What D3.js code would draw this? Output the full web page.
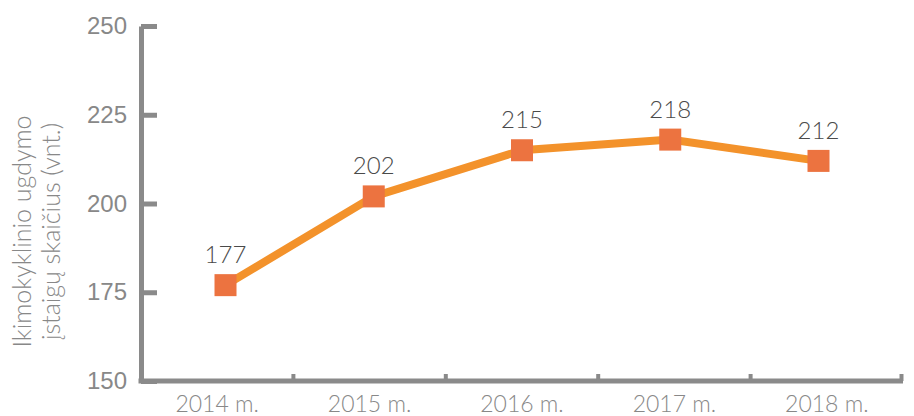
<!DOCTYPE html>
<html>
<head>
<meta charset="utf-8">
<script src="https://cdn.jsdelivr.net/npm/d3@7"></script>
<style>
    body { margin: 0; background: #fff; }
    svg { display: block; font-family: Lato, "Open Sans", sans-serif; }
</style>
</head>
<body>
<div id="chart"></div>
<script>
const years = ["2014 m.", "2015 m.", "2016 m.", "2017 m.", "2018 m."];
const values = [177, 202, 215, 218, 212];
const yTicks = [150, 175, 200, 225, 250];
const yTitle = ["Ikimokyklinio ugdymo", "įstaigų skaičius (vnt.)"];

(function () {
    const width = 914, height = 416;
    const margin = { left: 141, right: 11, top: 26, bottom: 35 };
    const axisColor = "#8a8a8a";
    const svg = d3.select("#chart")
        .append("svg")
        .attr("width", width)
        .attr("height", height);

    const x = d3.scaleBand()
        .domain(years)
        .range([margin.left, width - margin.right]);
    // markers sit a bit inside the band centres in the original
    const xp = d3.scalePoint()
        .domain(years)
        .range([margin.left, width - margin.right])
        .padding(0.57);
    const y = d3.scaleLinear()
        .domain([150, 250])
        .range([height - margin.bottom, margin.top]);

    // y axis
    svg.append("g")
        .attr("transform", `translate(${margin.left},0)`)
        .call(d3.axisLeft(y).tickValues(yTicks).tickSizeInner(-16).tickSizeOuter(0).tickPadding(14))
        .call(g => {
            g.select(".domain").attr("stroke", axisColor).attr("stroke-width", 5);
            g.selectAll(".tick line").attr("stroke", axisColor).attr("stroke-width", 5);
            g.selectAll("text").attr("fill", "#888").attr("font-size", 24).attr("font-weight", 300);
        });

    // x axis
    const xa = svg.append("g")
        .attr("transform", `translate(0,${height - margin.bottom})`);
    xa.append("line")
        .attr("x1", margin.left - 2.5)
        .attr("x2", width - margin.right)
        .attr("stroke", axisColor)
        .attr("stroke-width", 5);
    xa.selectAll(".tk")
        .data(years.slice(1).map(d => x(d)).concat([width - margin.right - 1.5]))
        .join("line")
        .attr("x1", d => d)
        .attr("x2", d => d)
        .attr("y1", 0)
        .attr("y2", -7)
        .attr("stroke", axisColor)
        .attr("stroke-width", 4);
    xa.selectAll("text")
        .data(years)
        .join("text")
        .attr("x", d => x(d) + x.bandwidth() / 2)
        .attr("y", 31)
        .attr("text-anchor", "middle")
        .attr("fill", "#888")
        .attr("font-size", 23)
        .attr("font-weight", 300)
        .text(d => d);

    // y title
    svg.append("text")
        .attr("transform", `translate(31,${(margin.top + height - margin.bottom) / 2 + 28}) rotate(-90)`)
        .attr("text-anchor", "middle")
        .attr("fill", "#888")
        .attr("font-size", 25)
        .attr("font-weight", 300)
        .selectAll("tspan")
        .data(yTitle)
        .join("tspan")
        .attr("x", 0)
        .attr("dy", (d, i) => i === 0 ? 0 : 29)
        .text(d => d);

    // line
    const line = d3.line()
        .x((d, i) => xp(years[i]))
        .y(d => y(d));
    svg.append("path")
        .datum(values)
        .attr("d", line)
        .attr("fill", "none")
        .attr("stroke", "#f3922b")
        .attr("stroke-width", 8);

    const s = 22;
    svg.append("g")
        .selectAll("rect")
        .data(values)
        .join("rect")
        .attr("x", (d, i) => xp(years[i]) - s / 2)
        .attr("y", d => y(d) - s / 2)
        .attr("width", s)
        .attr("height", s)
        .attr("fill", "#ec7340");

    svg.append("g")
        .selectAll("text")
        .data(values)
        .join("text")
        .attr("x", (d, i) => xp(years[i]))
        .attr("y", d => y(d) - 22)
        .attr("text-anchor", "middle")
        .attr("fill", "#4a4a4a")
        .attr("font-size", 24)
        .attr("font-weight", 300)
        .text(d => d);
})();
</script>
</body>
</html>
